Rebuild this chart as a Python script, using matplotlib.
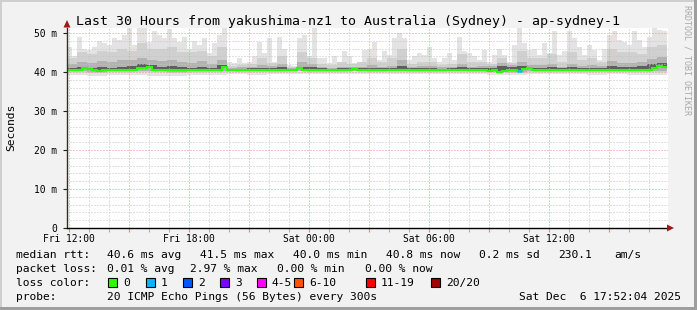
import numpy as np
import matplotlib
matplotlib.use("Agg")
import matplotlib.pyplot as plt
from matplotlib.patches import Rectangle, Polygon

W, H = 697, 310
MONO = "DejaVu Sans Mono"
FS = 8.1      # legend text
AFS = 6.9     # axis labels

# --- data: median rtt / smoke max, 15 min bins (120) starting Fri 11:53 ---
median_rtt = [
    40.5, 40.5, 40.6, 40.9, 40.7, 40.6, 40.2, 40.5, 40.5, 40.5,
    40.5, 40.4, 40.5, 40.4, 40.9, 41.1, 41.2, 40.6, 40.5, 40.6,
    40.5, 40.6, 40.5, 40.5, 40.6, 40.5, 40.5, 40.6, 40.5, 40.5,
    40.6, 41.2, 40.6, 40.5, 40.5, 40.5, 40.4, 40.5, 40.5, 40.4,
    40.4, 40.5, 40.4, 40.4, 40.5, 40.4, 40.9, 40.5, 40.5, 40.4,
    40.4, 40.5, 40.4, 40.4, 40.5, 40.4, 40.4, 40.8, 40.5, 40.4,
    40.5, 40.4, 40.4, 40.5, 40.4, 40.5, 40.4, 40.4, 40.5, 40.4,
    40.5, 40.4, 40.5, 40.5, 40.4, 40.5, 40.5, 40.4, 40.5, 40.5,
    40.4, 40.5, 40.6, 40.4, 40.2, 40.6, 40.1, 40.3, 40.4, 40.5,
    40.3, 40.8, 40.9, 40.6, 40.5, 40.5, 40.5, 40.6, 40.5, 40.5,
    40.5, 40.6, 40.5, 40.5, 40.6, 40.5, 40.5, 40.4, 40.5, 40.5,
    40.6, 40.5, 40.4, 40.5, 40.6, 40.5, 40.6, 41.0, 41.6, 41.3,
]
smoke_max = [
    46.5, 44.0, 49.0, 46.0, 45.7, 46.5, 48.0, 47.5, 47.0, 48.6,
    48.2, 49.5, 51.3, 47.0, 51.3, 51.3, 47.8, 50.4, 49.5, 48.6,
    51.0, 48.6, 47.8, 49.0, 46.0, 48.0, 47.0, 48.6, 44.8, 47.5,
    49.5, 51.2, 42.6, 42.2, 43.5, 42.2, 42.6, 44.0, 47.8, 44.8,
    48.6, 42.6, 49.0, 46.0, 41.9, 41.5, 48.6, 49.5, 44.0, 51.3,
    43.5, 43.5, 42.2, 44.0, 42.6, 45.3, 44.0, 42.2, 42.6, 45.7,
    46.0, 47.8, 43.0, 45.3, 44.4, 48.6, 50.0, 48.6, 43.0, 44.0,
    44.8, 44.4, 46.5, 43.5, 42.6, 43.5, 44.8, 43.0, 49.0, 45.3,
    44.8, 44.0, 43.0, 45.7, 42.6, 44.4, 46.0, 44.4, 42.6, 47.0,
    51.3, 47.5, 45.7, 46.0, 44.4, 47.5, 44.8, 50.4, 44.4, 45.3,
    50.4, 48.6, 46.5, 44.4, 47.0, 45.7, 43.0, 46.0, 49.5, 50.4,
    48.2, 47.8, 47.0, 50.4, 48.2, 46.5, 49.0, 51.2, 50.8, 50.4,
]
# inner smoke, 30 min bins (60)
smoke_p90 = [
    43.5, 45.0, 44.5, 45.5, 45.0, 46.0, 45.5, 47.5, 46.0, 46.0,
    46.5, 45.0, 45.0, 45.5, 44.0, 46.5, 41.5, 41.8, 42.0, 43.5,
    42.3, 44.0, 41.3, 45.0, 43.5, 42.0, 41.8, 42.5, 42.0, 42.5,
    43.5, 42.5, 43.5, 46.0, 42.0, 42.5, 42.5, 41.8, 42.0, 44.5,
    42.5, 42.5, 42.0, 43.5, 42.3, 45.5, 43.5, 43.5, 44.5, 42.5,
    45.0, 43.0, 43.5, 42.5, 46.0, 45.0, 45.0, 44.5, 46.5, 47.0,
]
smoke_p75 = [
    42.0, 42.5, 42.3, 42.8, 42.5, 43.0, 43.2, 43.5, 43.0, 42.8,
    43.2, 42.5, 42.3, 42.8, 42.0, 43.0, 41.1, 41.2, 41.3, 41.8,
    41.6, 42.0, 41.0, 42.5, 42.0, 41.2, 41.1, 41.4, 41.3, 41.4,
    41.8, 41.4, 41.6, 43.0, 41.3, 41.5, 41.5, 41.2, 41.3, 42.0,
    41.4, 41.5, 41.6, 42.2, 41.8, 42.5, 41.8, 41.8, 42.0, 41.4,
    42.0, 41.6, 41.8, 41.6, 42.8, 42.3, 42.2, 42.5, 43.3, 43.8,
]
smoke_p60 = [
    41.0, 41.2, 41.0, 41.3, 41.1, 41.4, 41.5, 42.0, 41.8, 41.4,
    41.5, 41.2, 41.1, 41.3, 41.0, 41.8, 40.8, 40.8, 40.9, 41.0,
    41.0, 41.2, 40.8, 41.4, 41.2, 40.9, 40.8, 40.9, 41.0, 40.9,
    41.0, 40.9, 41.0, 41.6, 40.9, 41.0, 40.9, 40.8, 40.9, 41.2,
    40.9, 41.0, 41.0, 41.5, 41.2, 41.6, 41.1, 41.0, 41.2, 40.9,
    41.2, 41.0, 41.1, 40.9, 41.6, 41.3, 41.2, 41.5, 42.0, 42.4,
]
# lower smoke, hourly (30)
smoke_min = [
    39.2, 39.1, 39.3, 39.2, 39.1, 39.0, 39.3, 39.2, 39.4, 39.3,
    39.5, 39.6, 39.5, 39.4, 39.5, 39.4, 39.6, 39.5, 39.5, 39.6,
    39.4, 39.3, 39.2, 39.4, 39.5, 39.4, 39.3, 39.4, 39.2, 39.3,
]
smoke_lo10 = [
    39.9, 39.8, 40.0, 39.9, 39.9, 39.8, 40.0, 40.0, 40.1, 40.0,
    40.1, 40.2, 40.1, 40.1, 40.2, 40.1, 40.2, 40.1, 40.1, 40.2,
    40.1, 39.9, 39.8, 40.0, 40.1, 40.1, 40.0, 40.1, 39.9, 40.0,
]
smoke_lo25 = [
    40.2, 40.1, 40.3, 40.2, 40.2, 40.1, 40.3, 40.3, 40.3, 40.3,
    40.3, 40.35, 40.3, 40.3, 40.35, 40.3, 40.35, 40.3, 40.3, 40.35,
    40.3, 40.0, 40.1, 40.3, 40.3, 40.3, 40.3, 40.3, 40.2, 40.3,
]
loss_bins = {90: 1}   # bin index -> lost pings

x_label_hours = [0, 6, 12, 18, 24]
x_labels = ["Fri 12:00", "Fri 18:00", "Sat 00:00", "Sat 06:00", "Sat 12:00"]
y_ticks = [0, 10, 20, 30, 40, 50]
y_labels = ["0", "10 m", "20 m", "30 m", "40 m", "50 m"]

loss_names = ["0", "1", "2", "3", "4-5", "6-10", "11-19", "20/20"]
loss_colors = ["#26ff00", "#00b8ff", "#0059ff", "#7e00ff",
               "#ff00ff", "#ff5500", "#ff0000", "#a10000"]


def fx(x):
    return x / W


def fy(y):
    return 1 - y / H


fig = plt.figure(figsize=(W / 100, H / 100), dpi=100, facecolor="#f2f2f2")

# bevel frame
fig.patches.append(Rectangle((0, fy(2)), 1, 2 / H, transform=fig.transFigure, color="#cfcfcf", lw=0))
fig.patches.append(Rectangle((0, 0), 2 / W, 1, transform=fig.transFigure, color="#cfcfcf", lw=0))
fig.patches.append(Rectangle((0, 0), 1, 3 / H, transform=fig.transFigure, color="#9e9e9e", lw=0))
fig.patches.append(Rectangle((fx(W - 3), 0), 3 / W, 1, transform=fig.transFigure, color="#9e9e9e", lw=0))

ax = fig.add_axes([fx(67), fy(228), 601 / W, 200 / H])
ax.set_facecolor("white")
ax.set_xlim(-0.075, 29.975)
ax.set_ylim(0, 51.28)

edges = -0.075 + 0.25 * np.arange(len(median_rtt) + 1)
med = np.array(median_rtt)
p90 = np.repeat(smoke_p90, 2)
p75 = np.repeat(smoke_p75, 2)
p60 = np.repeat(smoke_p60, 2)
lo0 = np.repeat(smoke_min, 4)
lo10 = np.repeat(smoke_lo10, 4)
lo25 = np.repeat(smoke_lo25, 4)

ax.stairs(smoke_max, edges, baseline=lo0, fill=True, color="#e3e3e3", lw=0, zorder=1)
ax.stairs(p90, edges, baseline=lo10, fill=True, color="#d0d0d0", lw=0, zorder=1.1)
ax.stairs(p75, edges, baseline=lo25, fill=True, color="#b2b2b2", lw=0, zorder=1.2)
ax.stairs(p60, edges, baseline=med, fill=True, color="#5e5e5e", lw=0, zorder=1.3)

ax.stairs(med, edges, baseline=None, color=loss_colors[0], lw=1.5, zorder=3)
for i, n in loss_bins.items():
    ax.plot([edges[i], edges[i + 1]], [med[i], med[i]], color=loss_colors[n],
            lw=1.8, solid_capstyle="butt", zorder=3.1)

# grid
ax.set_xticks(np.arange(0, 30, 3))
ax.set_xticks(np.arange(0, 30, 1), minor=True)
ax.set_yticks(y_ticks)
ax.set_yticks(np.arange(0, 52, 2), minor=True)
ax.set_axisbelow(False)
ax.grid(which="minor", color="#c4c4c4", ls=(0, (1, 2)), lw=0.72)
ax.grid(which="major", color="#f09090", ls=(0, (1, 2)), lw=0.72)

ax.set_xticklabels([x_labels[x_label_hours.index(h)] if h in x_label_hours else ""
                    for h in range(0, 30, 3)], fontsize=AFS, family=MONO)
ax.set_yticklabels(y_labels, fontsize=AFS, family=MONO)
ax.tick_params(axis="x", which="major", length=3, width=0.8, color="#f08080", pad=1.5)
ax.tick_params(axis="x", which="minor", length=3, width=0.8, color="#b0b0b0")
ax.tick_params(axis="y", which="major", length=3, width=0.8, color="#202020", pad=4)
ax.tick_params(axis="y", which="minor", length=0)

for s in ["top", "right"]:
    ax.spines[s].set_visible(False)
ax.spines["bottom"].set_color("black")
ax.spines["left"].set_color("#3a2a2a")
ax.spines["bottom"].set_linewidth(1)
ax.spines["left"].set_linewidth(1)
ax.spines["bottom"].set_zorder(4)
ax.spines["left"].set_zorder(4)

# arrows
fig.patches.append(Polygon([(fx(674), fy(228)), (fx(667), fy(224.5)), (fx(667), fy(231.5))],
                           closed=True, transform=fig.transFigure, color="#a01818", lw=0))
fig.patches.append(Polygon([(fx(67), fy(20)), (fx(63.5), fy(27.5)), (fx(70.5), fy(27.5))],
                           closed=True, transform=fig.transFigure, color="#a01818", lw=0))

# titles
fig.text(fx(348), fy(24.5), "Last 30 Hours from yakushima-nz1 to Australia (Sydney) - ap-sydney-1",
         fontsize=9.5, family=MONO, ha="center", va="baseline")
fig.text(fx(11), fy(127), "Seconds", fontsize=FS, family=MONO, rotation=90, ha="center", va="center")
fig.text(fx(687), fy(60), "RRDTOOL / TOBI OETIKER", fontsize=6, family=MONO, rotation=270,
         ha="center", va="center", color="#a8a8a8")

# legend rows
rows = [
    (258, [(16, "median rtt:"), (107, "40.6 ms avg"), (200, "41.5 ms max"), (293, "40.0 ms min"),
           (386, "40.8 ms now"), (479, "0.2 ms sd"), (558, "230.1"), (614, "am/s")]),
    (272, [(16, "packet loss:"), (107, "0.01 % avg"), (190, "2.97 % max"), (277, "0.00 % min"),
           (365, "0.00 % now")]),
    (286, [(16, "loss color:")]),
    (300, [(16, "probe:"), (107, "20 ICMP Echo Pings (56 Bytes) every 300s")]),
]
for y, items in rows:
    for x, s in items:
        fig.text(fx(x), fy(y), s, fontsize=FS, family=MONO, va="baseline")
fig.text(fx(681), fy(300), "Sat Dec  6 17:52:04 2025", fontsize=FS, family=MONO,
         va="baseline", ha="right")

box_x = [108, 146, 183, 220, 257, 294, 366, 431]
for bx, name, c in zip(box_x, loss_names, loss_colors):
    fig.patches.append(Rectangle((fx(bx), fy(286.5)), 9 / W, 9 / H, transform=fig.transFigure,
                                 facecolor=c, edgecolor="black", lw=0.8))
    fig.text(fx(bx + 15), fy(286), name, fontsize=FS, family=MONO, va="baseline")

fig.savefig("out.png", dpi=100, facecolor=fig.get_facecolor())
